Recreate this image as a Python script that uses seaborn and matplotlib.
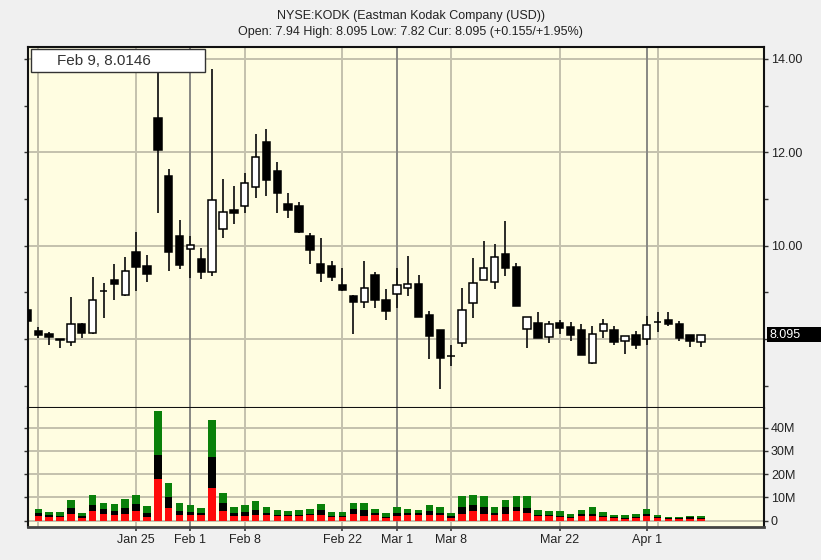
"""
candlestick chart with split volume bars for KODK
"""

import pandas as pd
import seaborn as sns
import matplotlib.pyplot as plt
import matplotlib.patches as mpatches
import matplotlib.transforms as mtransforms
from matplotlib.ticker import FixedLocator, FuncFormatter, MultipleLocator

# trading days shown on the chart
dates = [
    "Jan 8", "Jan 11", "Jan 12", "Jan 13", "Jan 14", "Jan 15", "Jan 19",
    "Jan 20", "Jan 21", "Jan 22", "Jan 25", "Jan 26", "Jan 27", "Jan 28",
    "Jan 29", "Feb 1", "Feb 2", "Feb 3", "Feb 4", "Feb 5", "Feb 8", "Feb 9",
    "Feb 10", "Feb 11", "Feb 12", "Feb 16", "Feb 17", "Feb 18", "Feb 19",
    "Feb 22", "Feb 23", "Feb 24", "Feb 25", "Feb 26", "Mar 1", "Mar 2",
    "Mar 3", "Mar 4", "Mar 5", "Mar 8", "Mar 9", "Mar 10", "Mar 11",
    "Mar 12", "Mar 15", "Mar 16", "Mar 17", "Mar 18", "Mar 19", "Mar 22",
    "Mar 23", "Mar 24", "Mar 25", "Mar 26", "Mar 29", "Mar 30", "Mar 31",
    "Apr 1", "Apr 5", "Apr 6", "Apr 7", "Apr 8", "Apr 9",
]

opens = [
    8.62, 8.18, 8.11, 7.99, 7.94, 8.32, 8.12, 9.03, 9.26, 8.95, 9.86, 9.56,
    12.73, 11.49, 10.20, 9.93, 9.71, 9.44, 10.36, 10.77, 10.84, 11.26, 12.22,
    11.59, 10.90, 10.85, 10.20, 9.61, 9.57, 9.15, 8.91, 8.80, 9.36, 8.83,
    8.96, 9.09, 9.17, 8.51, 8.19, 7.64, 7.91, 8.77, 9.27, 9.22, 9.81, 9.55,
    8.21, 8.35, 8.05, 8.34, 8.26, 8.19, 7.49, 8.18, 8.19, 7.96, 8.08, 7.99,
    8.36, 8.41, 8.33, 8.08, 7.94,
]
highs = [
    8.66, 8.25, 8.15, 7.99, 8.90, 8.35, 9.33, 9.20, 9.60, 9.76, 10.30, 9.79,
    14.10, 11.65, 10.54, 10.20, 9.95, 13.78, 11.43, 11.27, 11.56, 12.39,
    12.49, 11.79, 11.13, 10.93, 10.26, 10.16, 9.67, 9.52, 8.95, 9.67, 9.44,
    9.07, 9.52, 9.78, 9.38, 8.60, 8.19, 7.86, 9.09, 9.73, 10.10, 10.03,
    10.53, 9.62, 8.48, 8.58, 8.38, 8.41, 8.36, 8.33, 8.28, 8.42, 8.28, 8.06,
    8.18, 8.50, 8.58, 8.58, 8.39, 8.08, 8.095,
]
lows = [
    8.35, 8.02, 7.86, 7.80, 7.84, 8.03, 8.11, 8.44, 8.83, 8.91, 9.02, 9.23,
    10.70, 9.45, 9.50, 9.30, 9.28, 9.34, 10.17, 10.46, 10.70, 11.03, 11.06,
    10.70, 10.59, 10.27, 9.61, 9.23, 9.25, 9.02, 8.11, 8.66, 8.66, 8.40,
    8.66, 8.93, 8.46, 7.57, 6.93, 7.42, 7.82, 8.45, 9.27, 9.07, 9.34, 8.70,
    7.81, 8.02, 7.91, 8.11, 7.95, 7.65, 7.47, 8.03, 7.88, 7.68, 7.79, 7.86,
    8.15, 8.27, 7.96, 7.83, 7.82,
]
closes = [
    8.39, 8.08, 8.04, 7.985, 8.32, 8.12, 8.83, 9.025, 9.17, 9.46, 9.55, 9.40,
    12.06, 9.86, 9.58, 10.01, 9.44, 10.97, 10.73, 10.70, 11.35, 11.89, 11.41,
    11.13, 10.77, 10.29, 9.91, 9.41, 9.32, 9.04, 8.80, 9.09, 8.83, 8.60,
    9.15, 9.17, 8.48, 8.07, 7.59, 7.635, 8.63, 9.20, 9.52, 9.76, 9.52, 8.71,
    8.48, 8.02, 8.32, 8.23, 8.08, 7.65, 8.11, 8.32, 7.94, 8.06, 7.86, 8.30,
    8.355, 8.32, 8.02, 7.95, 8.095,
]

# volume in millions, read as the top of each coloured layer
vol_red = [
    0.0, 1.9, 1.6, 1.4, 2.9, 1.3, 4.2, 2.9, 2.3, 2.9, 4.2, 1.7, 18.1, 5.6,
    2.4, 2.6, 2.3, 14.2, 4.0, 2.0, 2.2, 2.4, 2.4, 1.9, 2.0, 2.2, 2.3, 2.4,
    1.4, 1.6, 3.0, 2.2, 2.6, 1.3, 2.2, 2.3, 2.3, 2.6, 2.3, 1.2, 3.0, 4.2,
    3.0, 2.3, 3.0, 4.1, 3.3, 2.0, 1.9, 1.6, 1.2, 2.2, 2.0, 1.4, 1.0, 0.6,
    1.2, 2.0, 1.0, 0.6, 0.7, 0.9, 0.7,
]
vol_black = [
    0.0, 3.5, 2.3, 2.2, 5.6, 2.0, 6.8, 5.2, 4.3, 5.5, 7.2, 3.2, 28.2, 10.4,
    4.3, 3.7, 3.3, 27.6, 7.8, 3.3, 3.7, 4.6, 3.2, 2.6, 2.4, 2.6, 2.9, 4.6,
    2.0, 2.0, 5.2, 4.5, 3.2, 1.7, 3.5, 3.5, 3.2, 4.3, 3.5, 1.9, 6.1, 6.7,
    6.1, 3.5, 5.8, 6.1, 5.5, 2.6, 2.3, 2.2, 1.7, 2.9, 2.9, 1.9, 1.4, 1.2,
    1.6, 3.0, 1.4, 1.0, 1.2, 1.4, 1.2,
]
vol_total = [
    0.0, 5.2, 3.9, 3.9, 8.9, 3.5, 10.9, 7.8, 7.2, 9.5, 10.9, 6.2, 47.2, 16.4,
    7.8, 6.6, 5.6, 43.5, 12.1, 5.8, 6.6, 8.3, 5.8, 4.6, 4.0, 4.6, 5.2, 7.2,
    3.6, 3.6, 7.8, 7.8, 5.2, 3.5, 6.1, 5.1, 4.5, 6.7, 5.7, 3.5, 10.6, 11.0,
    10.6, 6.1, 8.8, 10.6, 10.6, 4.5, 4.1, 4.1, 3.0, 4.5, 5.7, 3.6, 2.6, 2.5,
    2.9, 5.1, 2.5, 1.4, 1.7, 2.2, 1.9,
]

label_dates = ["Jan 25", "Feb 1", "Feb 8", "Feb 22", "Mar 1", "Mar 8",
               "Mar 22", "Apr 1"]
grid_dates = ["Jan 11", "Jan 25", "Feb 8", "Feb 22", "Mar 8", "Mar 22",
              "Apr 5"]
month_dates = ["Feb 1", "Mar 1", "Apr 1"]

title_1 = "NYSE:KODK (Eastman Kodak Company (USD))"
title_2 = "Open: 7.94 High: 8.095 Low: 7.82 Cur: 8.095 (+0.155/+1.95%)"
cursor_text = "Feb 9, 8.0146"
last_price = 8.095

sns.set_theme(style="white")
plt.rcParams["font.family"] = ["Liberation Sans", "DejaVu Sans"]

df = pd.DataFrame({
    "idx": range(len(dates)), "date": dates,
    "open": opens, "high": highs, "low": lows, "close": closes,
    "vol_red": vol_red, "vol_black": vol_black, "vol_total": vol_total,
})

bg = "#fffde1"
grid_c = "#c4c1ad"
month_c = "#888884"

fig = plt.figure(figsize=(8.21, 5.6), dpi=100, facecolor="#f0f0f0")
ax = fig.add_axes([28 / 821, 152 / 560, 736 / 821, 361 / 560])
ax_v = fig.add_axes([28 / 821, 33 / 560, 736 / 821, 119 / 560], sharex=ax)

# volume, drawn as overlapping layers from the ground
for col, colour in [("vol_total", "#0a800a"), ("vol_black", "#000000"),
                    ("vol_red", "#ff0a0a")]:
    sns.barplot(data=df, x="idx", y=col, color=colour, native_scale=True,
                width=0.7, errorbar=None, linewidth=0, saturation=1,
                ax=ax_v, zorder=3)

# candlesticks
up = df.close >= df.open
ax.vlines(df.idx, df.low, df.high, color="#1a1a1a", linewidth=1.3, zorder=3)
body_lo = df[["open", "close"]].min(axis=1)
body_hi = df[["open", "close"]].max(axis=1)
ax.bar(df.idx, body_hi - body_lo, bottom=body_lo, width=0.68,
       color=["white" if u else "black" for u in up],
       edgecolor="black", linewidth=1.1, zorder=4)

for a in (ax, ax_v):
    a.set_facecolor(bg)
    for d in grid_dates:
        a.axvline(dates.index(d), color=grid_c, linewidth=1.4, zorder=1)
    for d in month_dates:
        a.axvline(dates.index(d), color=month_c, linewidth=1.4, zorder=1)
    a.set_xlabel("")
    a.set_ylabel("")
    a.tick_params(axis="y", left=True, right=True, labelleft=False,
                  labelright=True, direction="out", length=3, width=1,
                  color="#333333", labelsize=9, labelcolor="#222222", pad=2)
    a.tick_params(axis="y", which="minor", left=True, right=True,
                  direction="out", length=3, width=1, color="#333333")
    for s in a.spines.values():
        s.set_color("#111111")
        s.set_linewidth(1.5)

ax.set_xlim(0.05, 67.8)
ax.set_ylim(6.52, 14.257)
ax.yaxis.set_major_locator(FixedLocator([8, 10, 12, 14]))
ax.yaxis.set_minor_locator(MultipleLocator(1))
# the 8.00 label sits under the last-price marker, so it is left blank
ax.yaxis.set_major_formatter(
    FuncFormatter(lambda v, p: "" if abs(v - last_price) < 0.3 else f"{v:.2f}"))
ax.grid(axis="y", color=grid_c, linewidth=1.4, zorder=1)
ax.set_axisbelow(True)
ax.tick_params(axis="x", bottom=False, labelbottom=False)

ax_v.set_ylim(-2.7, 48.5)
ax_v.yaxis.set_major_locator(FixedLocator([0, 10, 20, 30, 40]))
ax_v.yaxis.set_major_formatter(
    FuncFormatter(lambda v, p: "0" if v == 0 else f"{v:.0f}M"))
ax_v.grid(axis="y", color=grid_c, linewidth=1.4, zorder=1)
ax_v.set_axisbelow(True)
ax_v.spines["top"].set_visible(False)
ax_v.spines["bottom"].set_color("#444444")
ax_v.spines["bottom"].set_linewidth(2)
ax_v.set_xticks([dates.index(d) for d in label_dates])
ax_v.set_xticklabels(label_dates)
ax_v.tick_params(axis="x", bottom=True, direction="out", length=3,
                 color="#444444", labelsize=9, labelcolor="#222222", pad=2)
ax_v.set_xlim(0.05, 67.8)

# header
fig.text(0.5, 1 - 16 / 560, title_1, ha="center", va="center", fontsize=9,
         color="#222222")
fig.text(0.5, 1 - 32 / 560, title_2, ha="center", va="center", fontsize=9,
         color="#222222")

# cursor readout box
fig.patches.append(mpatches.Rectangle(
    (31 / 821, 1 - 72 / 560), 174 / 821, 23 / 560, transform=fig.transFigure,
    facecolor="white", edgecolor="#333333", linewidth=1, zorder=5))
fig.text(57 / 821, 1 - 61 / 560, cursor_text, ha="left", va="center",
         fontsize=11, color="#333333", zorder=6)

# last price marker on the right axis
trans = mtransforms.blended_transform_factory(fig.transFigure, ax.transData)
ax.add_patch(mpatches.Rectangle(
    (767 / 821, last_price - 0.165), 54 / 821, 0.33, transform=trans,
    facecolor="black", edgecolor="none", clip_on=False, zorder=6))
ax.text(769 / 821, last_price, f"{last_price:.3f}", transform=trans,
        ha="left", va="center", fontsize=9, color="white", clip_on=False,
        zorder=7)

fig.savefig("out.png", dpi=100, facecolor=fig.get_facecolor())
